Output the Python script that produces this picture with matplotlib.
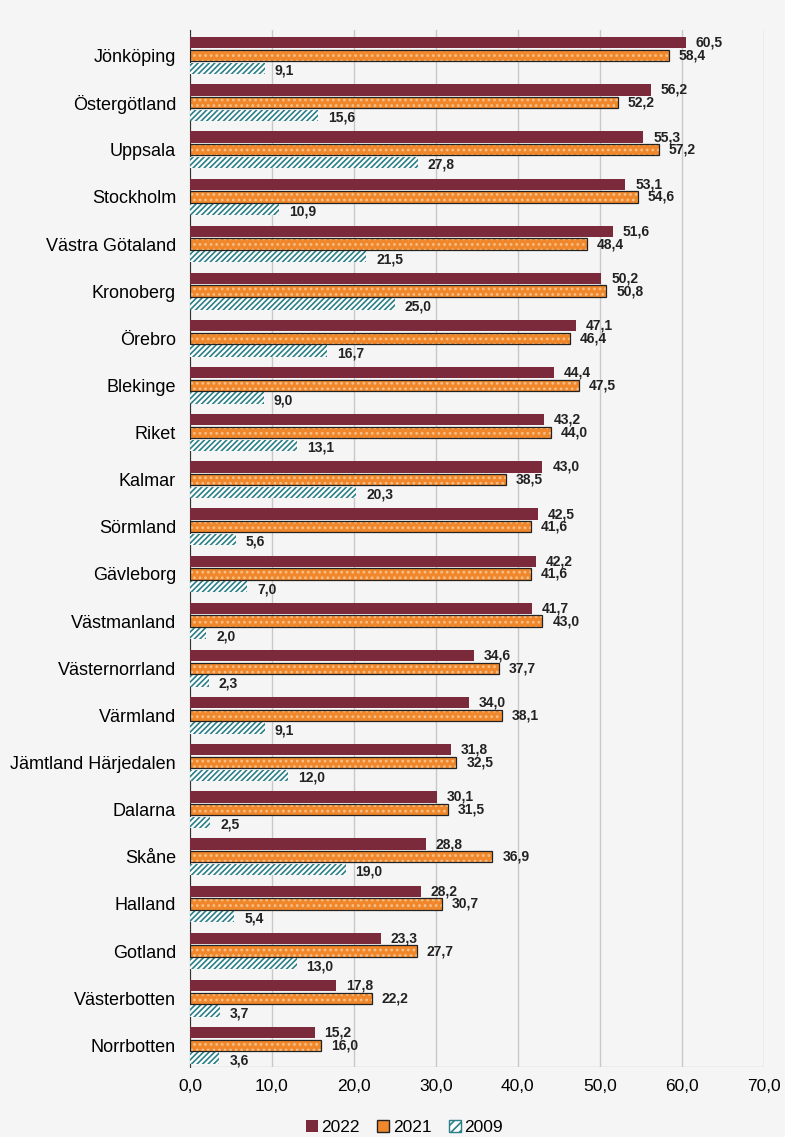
import matplotlib.pyplot as plt
import numpy as np
from matplotlib.patches import Patch
from matplotlib import font_manager as fm

regions = ["Jönköping", "Östergötland", "Uppsala", "Stockholm", "Västra Götaland",
           "Kronoberg", "Örebro", "Blekinge", "Riket", "Kalmar", "Sörmland",
           "Gävleborg", "Västmanland", "Västernorrland", "Värmland",
           "Jämtland Härjedalen", "Dalarna", "Skåne", "Halland", "Gotland",
           "Västerbotten", "Norrbotten"]
v2022 = [60.5, 56.2, 55.3, 53.1, 51.6, 50.2, 47.1, 44.4, 43.2, 43.0, 42.5,
         42.2, 41.7, 34.6, 34.0, 31.8, 30.1, 28.8, 28.2, 23.3, 17.8, 15.2]
v2021 = [58.4, 52.2, 57.2, 54.6, 48.4, 50.8, 46.4, 47.5, 44.0, 38.5, 41.6,
         41.6, 43.0, 37.7, 38.1, 32.5, 31.5, 36.9, 30.7, 27.7, 22.2, 16.0]
v2009 = [9.1, 15.6, 27.8, 10.9, 21.5, 25.0, 16.7, 9.0, 13.1, 20.3, 5.6,
         7.0, 2.0, 2.3, 9.1, 12.0, 2.5, 19.0, 5.4, 13.0, 3.7, 3.6]

def fmt(v):
    return f"{v:.1f}".replace(".", ",")

plt.rcParams['font.family'] = ['Liberation Sans', 'DejaVu Sans']
plt.rcParams['hatch.linewidth'] = 1.2

# pick the regular-width bold face (not the Narrow one)
bold_file = None
for f in fm.fontManager.ttflist:
    if f.name == "Liberation Sans" and f.weight in (700, "bold") and f.style == "normal":
        bold_file = f.fname
if bold_file:
    bold = fm.FontProperties(fname=bold_file, size=10)
else:
    bold = fm.FontProperties(family="DejaVu Sans", weight="bold", size=9)

bg = "#f5f5f5"
c22 = "#7b2a3b"
c21 = "#f0872a"
c09 = "#2b7f86"

fig = plt.figure(figsize=(7.85, 11.37), dpi=100, facecolor=bg)
ax = fig.add_axes([0.242, 0.062, 0.731, 0.912], facecolor=bg)

y = np.arange(len(regions))
h = 0.24
off = 0.27

ax.barh(y - off, v2022, height=h, color=c22, zorder=3)
ax.barh(y, v2021, height=h, color=c21, edgecolor="#f7c08a", hatch="...", linewidth=0, zorder=3)
ax.barh(y, v2021, height=h, fill=False, edgecolor="#222222", linewidth=0.9, zorder=4)
ax.barh(y + off, v2009, height=h, color="white", edgecolor=c09, hatch="//////", linewidth=0, zorder=3)

for i in range(len(regions)):
    ax.text(v2022[i] + 1.2, y[i] - off, fmt(v2022[i]), va="center", ha="left",
            fontproperties=bold, color="#222222")
    ax.text(v2021[i] + 1.2, y[i], fmt(v2021[i]), va="center", ha="left",
            fontproperties=bold, color="#222222")
    ax.text(v2009[i] + 1.2, y[i] + off + 0.05, fmt(v2009[i]), va="center", ha="left",
            fontproperties=bold, color="#222222")

ax.set_xlim(0, 70)
ax.set_ylim(len(regions) - 0.55, -0.55)
ax.set_xticks(np.arange(0, 71, 10))
ax.set_xticklabels([fmt(t) for t in np.arange(0, 71, 10)], fontsize=12.5)
ax.set_yticks(y)
ax.set_yticklabels(regions, fontsize=13)
ax.tick_params(axis="y", length=0, pad=10)
ax.tick_params(axis="x", length=0, pad=9)
ax.xaxis.grid(True, color="#c8c8c8", linewidth=1, zorder=0)
for s in ["top", "right", "bottom"]:
    ax.spines[s].set_visible(False)
ax.spines["left"].set_color("#333333")
ax.axhline(len(regions) - 0.55, color="#c8c8c8", linewidth=1, zorder=1)

handles = [Patch(facecolor=c22, label="2022"),
           Patch(facecolor=c21, edgecolor="#222222", label="2021"),
           Patch(facecolor="white", edgecolor=c09, hatch="////", label="2009")]
fig.legend(handles=handles, loc="lower center", ncol=3, frameon=False, fontsize=12.5,
           handlelength=0.7, handleheight=0.7, handletextpad=0.2, columnspacing=1.0,
           bbox_to_anchor=(0.515, -0.012))

fig.savefig("out.png", dpi=100, facecolor=bg)
